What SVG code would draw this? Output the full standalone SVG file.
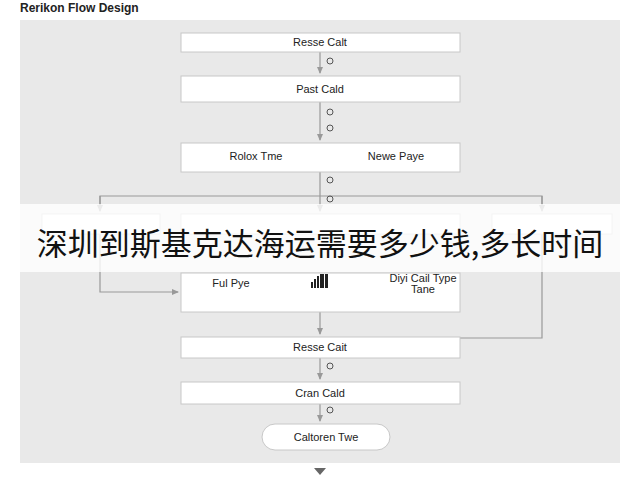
<svg xmlns="http://www.w3.org/2000/svg" width="640" height="480" viewBox="0 0 640 480">
<defs>
<marker id="ah" markerWidth="8" markerHeight="8" refX="6" refY="4" orient="auto" markerUnits="userSpaceOnUse"><path d="M0,1 L7,4 L0,7 z" fill="#999"/></marker>
<style>
.bx{fill:#fff;stroke:#c8c8c8;stroke-width:1}
.t{font-family:"Liberation Sans",Arial,sans-serif;font-size:11px;fill:#222;text-anchor:middle}
.c{fill:none;stroke:#999;stroke-width:1.2}
.ic{fill:none;stroke:#555;stroke-width:1}
</style>
</defs>
<rect width="640" height="480" fill="#fff"/>
<text x="20" y="12" font-family="Liberation Sans,Arial,sans-serif" font-size="12" font-weight="bold" fill="#222">Rerikon Flow Design</text>
<rect x="20" y="20" width="600" height="443" fill="#e9e9e9"/>
<g id="connectors">
<path class="c" d="M320 52 V73" marker-end="url(#ah)"/>
<path class="c" d="M320 102 V140" marker-end="url(#ah)"/>
<path class="c" d="M320 172 V211" marker-end="url(#ah)"/>
<path class="c" d="M100 210 V196 H542 V210" />
<path class="c" d="M100 196 V211" marker-end="url(#ah)"/>
<path class="c" d="M542 196 V211" marker-end="url(#ah)"/>
<path class="c" d="M100 230 V292 H178" marker-end="url(#ah)"/>
<path class="c" d="M542 230 V338 H320"/>
<path class="c" d="M320 312 V334" marker-end="url(#ah)"/>
<path class="c" d="M320 358 V379" marker-end="url(#ah)"/>
<path class="c" d="M320 404 V421" marker-end="url(#ah)"/>
<g class="ic"><circle cx="330" cy="61" r="3"/><circle cx="330" cy="112" r="3"/><circle cx="330" cy="128" r="3"/><circle cx="330" cy="180" r="3"/><circle cx="330" cy="199" r="3"/><circle cx="330" cy="307" r="3"/><circle cx="330" cy="366" r="3"/><circle cx="330" cy="410" r="3"/></g>
</g>
<g id="n1"><rect class="bx" x="181" y="33" width="279" height="19"/><text class="t" x="320" y="46">Resse Calt</text></g>
<g id="n2"><rect class="bx" x="181" y="76" width="279" height="26"/><text class="t" x="320" y="93">Past Cald</text></g>
<g id="n3"><rect class="bx" x="181" y="143" width="279" height="29"/><text class="t" x="256" y="160">Rolox Tme</text><text class="t" x="396" y="160">Newe Paye</text></g>
<g id="nl"><rect class="bx" x="42" y="214" width="118" height="20"/></g>
<g id="nm"><rect class="bx" x="181" y="214" width="279" height="20"/></g>
<g id="nr"><rect class="bx" x="492" y="214" width="120" height="20"/></g>
<g id="n4"><rect class="bx" x="181" y="273" width="279" height="39"/><text class="t" x="231" y="287">Ful Pye</text>
<g fill="#222"><rect x="311" y="282" width="2" height="6"/><rect x="314" y="279" width="2" height="9"/><rect x="317" y="276" width="2" height="12"/><rect x="320" y="274" width="4" height="14"/><rect x="325" y="274" width="3" height="14"/></g>
<text class="t" x="423" y="282">Diyi Cail Type</text><text class="t" x="423" y="293">Tane</text></g>
<g id="n5"><rect class="bx" x="181" y="337" width="279" height="21"/><text class="t" x="320" y="351">Resse Cait</text></g>
<g id="n6"><rect class="bx" x="181" y="382" width="279" height="22"/><text class="t" x="320" y="397">Cran Cald</text></g>
<g id="n7"><rect class="bx" x="262" y="424" width="128" height="26" rx="13"/><text class="t" x="326" y="441">Caltoren Twe</text></g>
<path d="M314 468 H326 L320 475 z" fill="#666"/>
<rect x="0" y="204" width="640" height="68" fill="#fff" fill-opacity="0.8"/>
<text x="320" y="255" font-family="Noto Sans CJK SC,sans-serif" font-size="31" fill="#111" text-anchor="middle">深圳到斯基克达海运需要多少钱,多长时间</text>
</svg>
